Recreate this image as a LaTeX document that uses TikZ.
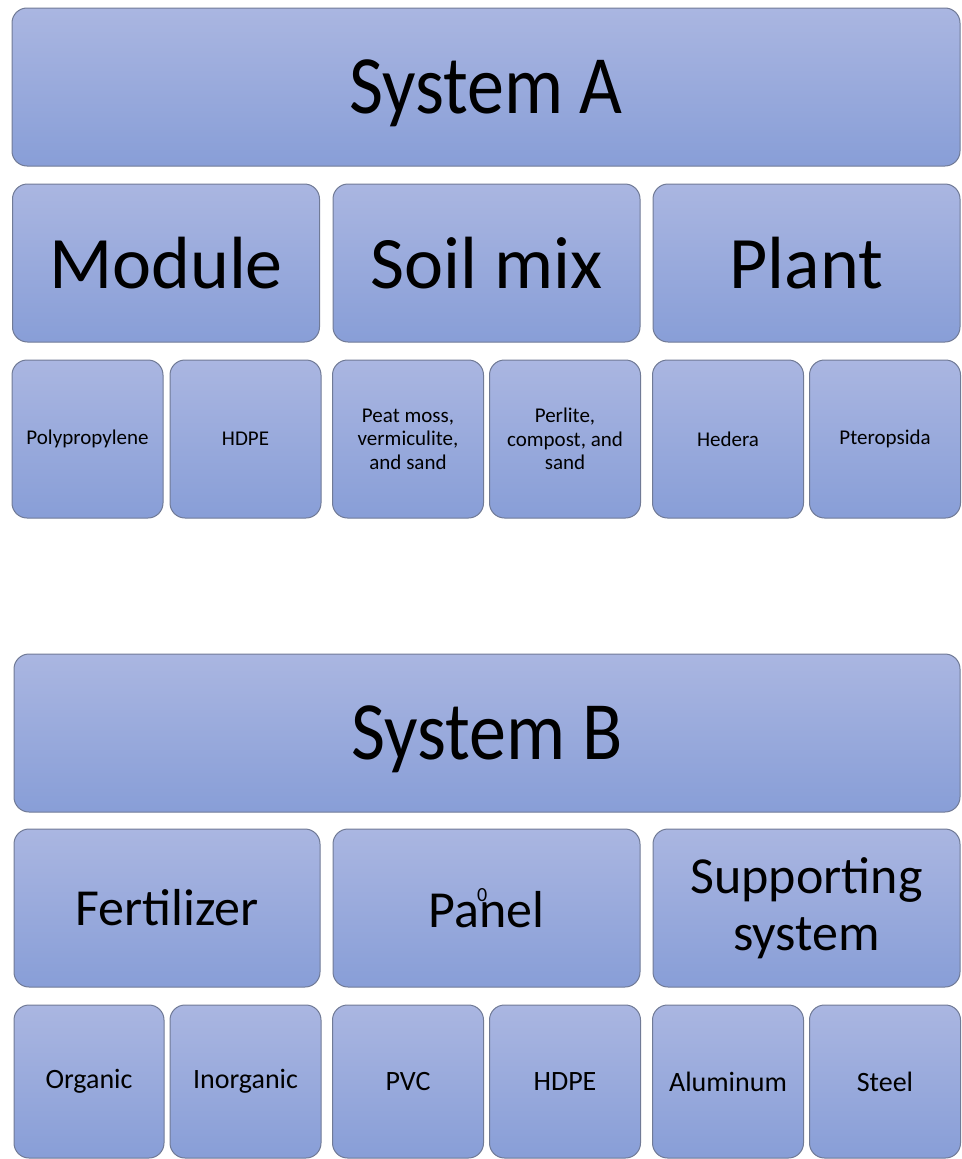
\documentclass[tikz,border=0pt]{standalone}
\usepackage{fontspec}
\setmainfont{Carlito}
\usepackage{graphicx}
\usepackage{tikz}
\usetikzlibrary{positioning}
\definecolor{BoxTop}{RGB}{170,182,225}
\definecolor{BoxBottom}{RGB}{136,158,215}
\definecolor{BoxLine}{RGB}{112,122,150}

\begin{document}
\begin{tikzpicture}[
    x=1pt,y=-1pt,
    basebox/.style={draw=BoxLine,line width=1pt,rounded corners=15pt,
                    top color=BoxTop,bottom color=BoxBottom,
                    align=center,inner sep=2pt,text=black},
    sysbox/.style={basebox,minimum width=948pt,minimum height=158pt,
                   text depth=0pt,font=\fontsize{74}{80}\selectfont},
    catbox/.style={basebox,minimum width=307pt,minimum height=158pt},
    itembox/.style={basebox,minimum width=151pt,minimum height=158pt,
                    font=\fontsize{21}{23.5}\selectfont}
  ]
    \useasboundingbox (0,0) rectangle (961,1159);
    % System A
    \node[sysbox] (sysA) at (486,87) {\scalebox{1}[1.12]{System A}};
    \node[catbox,font=\fontsize{74}{80}\selectfont] (module) at (166,263) {Module};
    \node[catbox,font=\fontsize{74}{80}\selectfont] (soil) at (486.5,263) {Soil mix};
    \node[catbox,font=\fontsize{74}{80}\selectfont] (plant) at (806.5,263) {Plant};
    \node[itembox] (polyprop) at (87.5,439) {Polypropylene};
    \node[itembox] (hdpeA) at (245.5,439) {HDPE};
    \node[itembox] (peat) at (408,439) {Peat moss,\\vermiculite,\\and sand};
    \node[itembox] (perlite) at (565,439) {Perlite,\\compost, and\\sand};
    \node[itembox] (hedera) at (728,439) {Hedera};
    \node[itembox] (pteropsida) at (885,439) {Pteropsida};
    % System B
    \node[sysbox,minimum width=946pt] (sysB) at (487,733) {\scalebox{1}[1.12]{System B}};
    \node[catbox,minimum width=306pt,font=\fontsize{52}{57}\selectfont] (fert) at (167,908) {Fertilizer};
    \node[catbox,font=\fontsize{52}{57}\selectfont] (panel) at (486.5,908)
      {Pa\makebox[0pt]{\kern6pt\raisebox{26pt}{\fontsize{20}{20}\selectfont 0}}nel};
    \node[catbox,font=\fontsize{52}{57}\selectfont] (support) at (806.5,908) {Supporting\\system};
    \node[itembox,minimum width=150pt,minimum height=153pt,font=\fontsize{28}{32}\selectfont] (organic) at (89,1081.5) {Organic};
    \node[itembox,minimum height=153pt,font=\fontsize{28}{32}\selectfont] (inorganic) at (245.5,1081.5) {Inorganic};
    \node[itembox,minimum height=153pt,font=\fontsize{28}{32}\selectfont] (pvc) at (408,1081.5) {PVC};
    \node[itembox,minimum height=153pt,font=\fontsize{28}{32}\selectfont] (hdpeB) at (565,1081.5) {HDPE};
    \node[itembox,minimum height=153pt,font=\fontsize{28}{32}\selectfont] (aluminum) at (728,1081.5) {Aluminum};
    \node[itembox,minimum height=153pt,font=\fontsize{28}{32}\selectfont] (steel) at (885,1081.5) {Steel};
  \end{tikzpicture}
\end{document}
